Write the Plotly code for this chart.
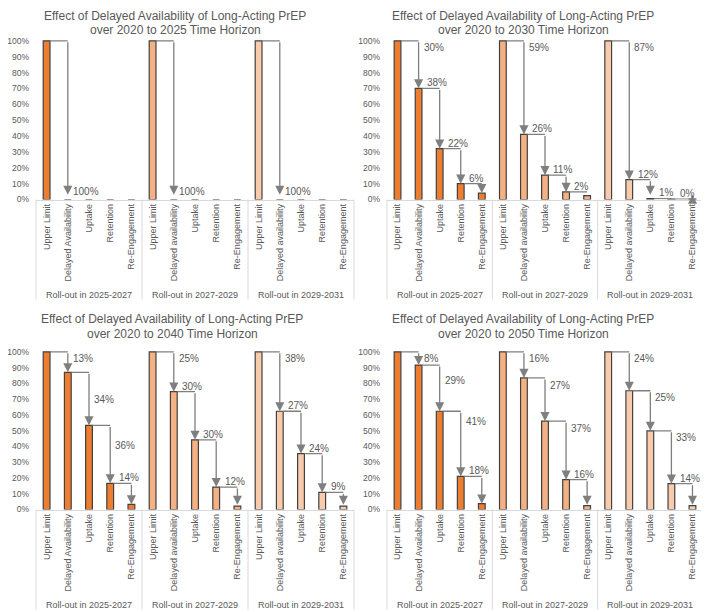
import plotly.graph_objects as go
from plotly.subplots import make_subplots

# Stage names (first roll-out window uses a capital "A" in the source chart)
stages_first = ["Upper Limit", "Delayed Availability", "Uptake", "Retention", "Re-Engagement"]
stages_other = ["Upper Limit", "Delayed availability", "Uptake", "Retention", "Re-Engagement"]
rollouts = ["Roll-out in 2025-2027", "Roll-out in 2027-2029", "Roll-out in 2029-2031"]
horizon_titles = ["2020 to 2025", "2020 to 2030", "2020 to 2040", "2020 to 2050"]

# share of the upper limit reached at each stage, one list per roll-out window
values_2025 = [[1.00, 0, 0, 0, 0], [1.00, 0, 0, 0, 0], [1.00, 0, 0, 0, 0]]
values_2030 = [[1.00, 0.70, 0.32, 0.10, 0.04],
               [1.00, 0.41, 0.153, 0.048, 0.025],
               [1.00, 0.125, 0.006, 0.002, 0.002]]
values_2040 = [[1.00, 0.87, 0.533, 0.166, 0.032],
               [1.00, 0.747, 0.442, 0.142, 0.022],
               [1.00, 0.623, 0.354, 0.108, 0.022]]
values_2050 = [[1.00, 0.916, 0.623, 0.21, 0.037],
               [1.00, 0.834, 0.56, 0.189, 0.025],
               [1.00, 0.753, 0.499, 0.164, 0.025]]

# percentage-point drop written beside each arrow
drops_2025 = [["100%"], ["100%"], ["100%"]]
drops_2030 = [["30%", "38%", "22%", "6%"], ["59%", "26%", "11%", "2%"], ["87%", "12%", "1%", "0%"]]
drops_2040 = [["13%", "34%", "36%", "14%"], ["25%", "30%", "30%", "12%"], ["38%", "27%", "24%", "9%"]]
drops_2050 = [["8%", "29%", "41%", "18%"], ["16%", "27%", "37%", "16%"], ["24%", "25%", "33%", "14%"]]

group_colors = ["#ED7D31", "#F4B183", "#F8CBAD"]
text_gray = "#595959"
arrow_gray = "#7F7F7F"
line_gray = "#D9D9D9"
font = "Liberation Sans, Arial, sans-serif"

# the page body adds an 8px margin, so the figure is 8px smaller than the window
OFF = 8
W, H = 709 - OFF, 612 - OFF


def px2x(px):
    return (px - OFF) / W


def py2y(py):
    return 1 - (py - OFF) / H


fig = make_subplots(rows=2, cols=2)

panels = [
    (values_2025, drops_2025, 1, 1, "end"),
    (values_2030, drops_2030, 1, 2, "above"),
    (values_2040, drops_2040, 2, 1, "above"),
    (values_2050, drops_2050, 2, 2, "below"),
]

# labels that sit further down beside their arrow (panel, group, step): drop
label_drop = {(2, 0, 1): 0.17, (2, 0, 2): 0.13, (3, 0, 1): 0.10, (3, 0, 2): 0.065}

# window-pixel layout of the four plot areas
x_pix = [(36, 354), (387, 703)]
y_pix = [(40, 199.5), (351, 509.5)]
box_depth = 100     # category box below each axis
title_pix = [(175, 8), (523, 8), (172, 311), (523, 311)]

tick_vals, tick_text = [], []
for g in range(3):
    names = stages_first if g == 0 else stages_other
    for k, name in enumerate(names):
        tick_vals.append(g * 5 + k)
        tick_text.append(name)

half_bar = 0.16
for p, (vals, drops, row, col, style) in enumerate(panels):
    xs, ys, colors = [], [], []
    for g in range(3):
        for k in range(5):
            xs.append(g * 5 + k)
            ys.append(vals[g][k])
            colors.append(group_colors[g])
    fig.add_trace(go.Bar(
        x=xs, y=ys, width=0.32,
        marker=dict(color=colors, line=dict(color="#404040", width=1.2)),
        hoverinfo="skip", showlegend=False,
    ), row=row, col=col)

    n = p + 1
    xr = "x" if n == 1 else "x%d" % n
    yr = "y" if n == 1 else "y%d" % n

    # connectors: horizontal from bar top, then down with an arrow onto next bar
    for g in range(3):
        for k, txt in enumerate(drops[g]):
            start = vals[g][k]
            end = vals[g][k + 1]
            tip = max(end, 0.03)
            xi = g * 5 + k
            fig.add_shape(type="line", xref=xr, yref=yr,
                          x0=xi + half_bar, x1=xi + 1, y0=start, y1=start,
                          line=dict(color=arrow_gray, width=1.3))
            fig.add_annotation(xref=xr, yref=yr, axref=xr, ayref=yr,
                               x=xi + 1, y=tip, ax=xi + 1, ay=start, text="",
                               showarrow=True, arrowhead=2, arrowsize=1.4,
                               arrowwidth=1.3, arrowcolor=arrow_gray, standoff=0)
            if style == "end":
                lx, ly = xi + 1, tip + 0.02
            else:
                last = k == len(drops[g]) - 1
                over = start < 0.95 and (style == "above" or last)
                if (p, g, k) in label_drop:
                    over = False
                if over:
                    lx, ly = xi + half_bar, start + 0.035
                else:
                    lx, ly = xi + 1, start - label_drop.get((p, g, k), 0.045)
            fig.add_annotation(xref=xr, yref=yr, x=lx, y=ly, text=txt,
                               showarrow=False, xanchor="left", xshift=3,
                               font=dict(size=10, color=text_gray, family=font))

    # category box: dividers and roll-out labels
    x0p, x1p = x_pix[col - 1]
    axis_y = y_pix[row - 1][1]
    gw = (x1p - x0p) / 3
    for g in range(4):
        xp = x0p + g * gw
        fig.add_shape(type="line", xref="paper", yref="paper",
                      x0=px2x(xp), x1=px2x(xp), y0=py2y(axis_y),
                      y1=py2y(axis_y + box_depth),
                      line=dict(color=line_gray, width=1))
    for g, name in enumerate(rollouts):
        fig.add_annotation(xref="paper", yref="paper",
                           x=px2x(x0p + (g + 0.5) * gw),
                           y=py2y(axis_y + box_depth - 5),
                           xanchor="center", yanchor="middle",
                           showarrow=False, text=name,
                           font=dict(size=9, color=text_gray, family=font))

# panel titles, two lines each
for (px, py), h in zip(title_pix, horizon_titles):
    lines = ["Effect of Delayed Availability of Long-Acting PrEP",
             "over %s Time Horizon" % h]
    for i, line in enumerate(lines):
        fig.add_annotation(xref="paper", yref="paper", x=px2x(px),
                           y=py2y(py + i * 14.5), xanchor="center",
                           yanchor="top", showarrow=False, text=line,
                           borderpad=0,
                           font=dict(size=12, color=text_gray, family=font))

for n in range(1, 5):
    r = (n - 1) // 2
    c = (n - 1) % 2
    fig.update_layout(**{
        ("xaxis" if n == 1 else "xaxis%d" % n): dict(
            domain=[px2x(x_pix[c][0]), px2x(x_pix[c][1])], range=[-0.5, 14.5],
            tickmode="array", tickvals=tick_vals, ticktext=tick_text,
            tickangle=-90, showline=True, linecolor=line_gray, linewidth=1,
            ticks="", showgrid=False, zeroline=False, automargin=False,
            tickfont=dict(size=9, color=text_gray, family=font)),
        ("yaxis" if n == 1 else "yaxis%d" % n): dict(
            domain=[py2y(y_pix[r][1]), py2y(y_pix[r][0])], range=[0, 1.005],
            tickformat=".0%", tick0=0, dtick=0.1, showgrid=False,
            zeroline=False, showline=False, ticks="", ticklabelstandoff=6,
            automargin=False,
            tickfont=dict(size=8.5, color=text_gray, family=font)),
    })

fig.update_layout(
    template="none",
    width=W, height=H,
    margin=dict(l=0, r=0, t=0, b=0, pad=0),
    plot_bgcolor="white", paper_bgcolor="white",
    barmode="overlay",
    font=dict(family=font, color=text_gray),
)

fig.write_html("out.html")
